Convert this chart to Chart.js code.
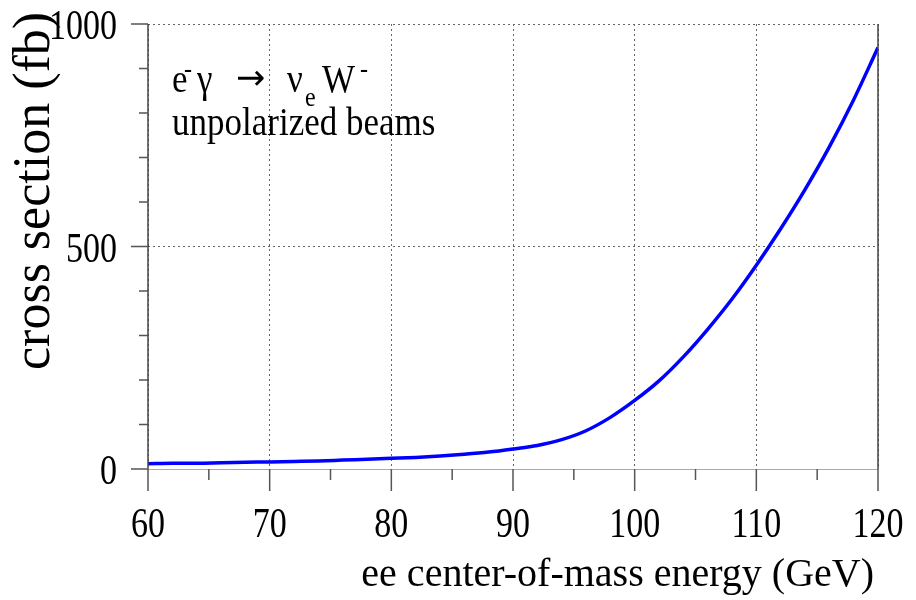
<!DOCTYPE html>
<html>
<head>
<meta charset="utf-8">
<script src="https://cdn.jsdelivr.net/npm/chart.js@4.4.0/dist/chart.umd.min.js"></script>
<style>
  html, body { margin: 0; padding: 0; background: #fff; }
</style>
</head>
<body>
<canvas id="myChart" width="916" height="600"></canvas>
<script>
// cross section of e- gamma -> nu_e W- vs ee c.m. energy
const energy = [60, 62, 64, 66, 68, 70, 72, 74, 76, 78, 80, 82, 84, 86, 88, 90,
  92, 94, 96, 98, 100, 102, 104, 106, 108, 110, 112, 114, 116, 118, 120];
const crossSection = [12, 13, 13, 14, 15, 16, 17, 18, 20, 22, 24, 26, 29, 33, 38, 45,
  53, 66, 86, 116, 154, 198, 252, 314, 382, 458, 540, 628, 724, 830, 947];
const xMajorTicks = [60, 70, 80, 90, 100, 110, 120];
const xMinorTicks = [65, 75, 85, 95, 105, 115];
const yMajorTicks = [0, 500, 1000];
const yMinorTicks = [100, 200, 300, 400, 600, 700, 800, 900];

const serif = "'Liberation Serif', 'Times New Roman', serif";

// text drawn a little taller than wide, like the original figure
function tallText(ctx, text, x, y, size, stretch, align, family) {
  ctx.save();
  ctx.translate(x, y);
  ctx.scale(1, stretch);
  ctx.font = size + 'px ' + (family || serif);
  ctx.textAlign = align;
  ctx.textBaseline = 'alphabetic';
  ctx.fillText(text, 0, 0);
  ctx.restore();
}

// tick marks, tick labels, frame and the texts drawn on top of the chart
const decorations = {
  id: 'decorations',
  afterDraw(chart) {
    const ctx = chart.ctx;
    const area = chart.chartArea;
    const xs = chart.scales.x;
    const ys = chart.scales.y;
    ctx.save();

    // frame
    ctx.strokeStyle = '#aaa';
    ctx.lineWidth = 1;
    ctx.beginPath();
    ctx.moveTo(area.left, area.bottom + 0.5);
    ctx.lineTo(area.right, area.bottom + 0.5);
    ctx.stroke();
    ctx.strokeStyle = '#444';
    ctx.lineWidth = 1.5;
    ctx.beginPath();
    ctx.moveTo(area.left, area.top);
    ctx.lineTo(area.left, area.bottom);
    ctx.moveTo(area.right, area.top);
    ctx.lineTo(area.right, area.bottom);
    ctx.stroke();

    // x ticks below the axis
    ctx.strokeStyle = '#555';
    ctx.lineWidth = 1.5;
    ctx.beginPath();
    xMajorTicks.forEach(v => {
      const px = xs.getPixelForValue(v);
      ctx.moveTo(px, area.bottom);
      ctx.lineTo(px, area.bottom + 22);
    });
    xMinorTicks.forEach(v => {
      const px = xs.getPixelForValue(v);
      ctx.moveTo(px, area.bottom);
      ctx.lineTo(px, area.bottom + 11);
    });
    // y ticks left of the axis
    yMajorTicks.forEach(v => {
      const py = ys.getPixelForValue(v);
      ctx.moveTo(area.left, py);
      ctx.lineTo(area.left - 17, py);
    });
    yMinorTicks.forEach(v => {
      const py = ys.getPixelForValue(v);
      ctx.moveTo(area.left, py);
      ctx.lineTo(area.left - 9, py);
    });
    ctx.stroke();

    ctx.fillStyle = '#000';

    // tick labels
    xs.ticks.forEach(t => {
      tallText(ctx, String(t.value), xs.getPixelForValue(t.value), area.bottom + 68, 34, 1.25, 'center');
    });
    ys.ticks.forEach(t => {
      tallText(ctx, String(t.value), area.left - 31, ys.getPixelForValue(t.value) + 15, 34, 1.25, 'right');
    });

    // axis titles
    ctx.font = '40px ' + serif;
    ctx.textAlign = 'right';
    ctx.textBaseline = 'alphabetic';
    ctx.fillText('ee center-of-mass energy (GeV)', area.right - 4, 586);

    ctx.save();
    ctx.translate(49, 370);
    ctx.rotate(-Math.PI / 2);
    ctx.textAlign = 'left';
    ctx.font = '52px ' + serif;
    ctx.fillText('cross section (fb)', 0, 0);
    ctx.restore();

    // process label
    const lx = area.left + 24;
    tallText(ctx, 'e', lx, 92, 35, 1.15, 'left');
    tallText(ctx, '-', lx + 12, 77, 24, 1.15, 'left');
    tallText(ctx, '\u03b3', lx + 25, 92, 35, 1.15, 'left');
    tallText(ctx, '\u2192', lx + 64, 89, 35, 1.0, 'left', "'DejaVu Sans', sans-serif");
    tallText(ctx, '\u03bd', lx + 115, 92, 35, 1.15, 'left');
    tallText(ctx, 'e', lx + 133, 106, 24, 1.15, 'left');
    tallText(ctx, 'W', lx + 150, 92, 35, 1.15, 'left');
    tallText(ctx, '-', lx + 188, 77, 24, 1.15, 'left');
    tallText(ctx, 'unpolarized beams', lx, 135, 35, 1.15, 'left');

    ctx.restore();
  }
};

const ctx = document.getElementById('myChart').getContext('2d');
const chart = new Chart(ctx, {
  type: 'line',
  data: {
    datasets: [{
      label: 'cross section',
      data: energy.map((e, i) => ({ x: e, y: crossSection[i] })),
      borderColor: '#0000ff',
      borderWidth: 3.5,
      pointRadius: 0,
      cubicInterpolationMode: 'monotone',
      fill: false
    }]
  },
  options: {
    responsive: false,
    animation: false,
    layout: { padding: { left: 0, top: 24, right: 38, bottom: 0 } },
    plugins: {
      legend: { display: false },
      tooltip: { enabled: false }
    },
    scales: {
      x: {
        type: 'linear',
        min: 60,
        max: 120,
        afterFit: scale => {
          scale.height = 131;
          scale.paddingLeft = 0;
          scale.paddingRight = 0;
        },
        afterBuildTicks: scale => { scale.ticks = xMajorTicks.map(v => ({ value: v })); },
        border: { display: false, dash: [2, 3] },
        grid: { drawTicks: false, color: '#666', lineWidth: 1 },
        ticks: { display: false }
      },
      y: {
        type: 'linear',
        min: 0,
        max: 1000,
        afterFit: scale => {
          scale.width = 148;
          scale.paddingTop = 0;
          scale.paddingBottom = 0;
        },
        afterBuildTicks: scale => { scale.ticks = yMajorTicks.map(v => ({ value: v })); },
        border: { display: false, dash: [2, 3] },
        grid: { drawTicks: false, color: '#666', lineWidth: 1 },
        ticks: { display: false }
      }
    }
  },
  plugins: [decorations]
});
</script>
</body>
</html>
